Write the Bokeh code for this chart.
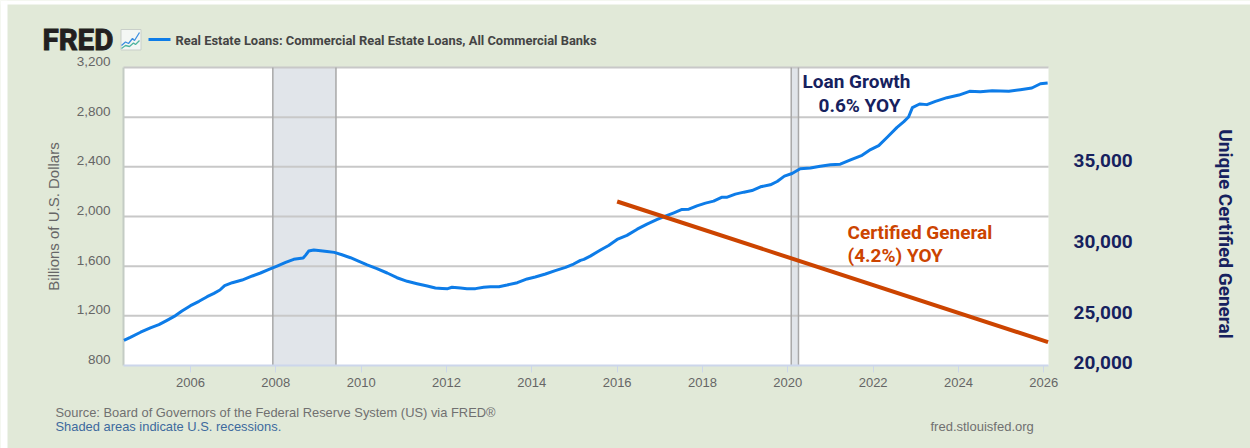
from math import pi

from bokeh.embed import file_html
from bokeh.models import (BoxAnnotation, ColumnDataSource, FixedTicker, Label, LinearAxis,
                          NumeralTickFormatter, PolyAnnotation, Range1d)
from bokeh.plotting import figure
from bokeh.resources import INLINE

# Commercial real estate loans, billions of U.S. dollars
loan_years = [
    2004.44, 2004.59, 2004.83, 2005.06, 2005.26, 2005.45, 2005.65, 2005.80, 2006.00, 2006.20,
    2006.39, 2006.55, 2006.69, 2006.80, 2006.98, 2007.21, 2007.45, 2007.64, 2007.84, 2008.03,
    2008.23, 2008.42, 2008.64, 2008.70, 2008.77, 2008.89, 2009.05, 2009.20, 2009.37, 2009.55,
    2009.75, 2009.91, 2010.14, 2010.37, 2010.61, 2010.84, 2011.08, 2011.31, 2011.55, 2011.74,
    2011.90, 2012.03, 2012.13, 2012.33, 2012.48, 2012.68, 2012.87, 2013.03, 2013.23, 2013.42,
    2013.66, 2013.89, 2014.08, 2014.32, 2014.55, 2014.79, 2014.98, 2015.14, 2015.22, 2015.37,
    2015.61, 2015.80, 2016.00, 2016.23, 2016.47, 2016.70, 2016.94, 2017.13, 2017.33, 2017.52,
    2017.68, 2017.87, 2018.07, 2018.26, 2018.46, 2018.58, 2018.77, 2018.97, 2019.16, 2019.36,
    2019.59, 2019.75, 2019.92, 2020.10, 2020.29, 2020.53, 2020.76, 2021.00, 2021.23, 2021.47,
    2021.74, 2021.94, 2022.13, 2022.33, 2022.56, 2022.72, 2022.83, 2022.92, 2023.09, 2023.26,
    2023.46, 2023.73, 2024.01, 2024.26, 2024.51, 2024.79, 2025.18, 2025.45, 2025.72, 2025.92,
    2026.09,
]
loan_values = [
    1003, 1027, 1068, 1103, 1129, 1164, 1202, 1239, 1282, 1317,
    1354, 1381, 1408, 1443, 1467, 1488, 1521, 1545, 1574, 1601,
    1630, 1655, 1665, 1689, 1722, 1730, 1724, 1719, 1711, 1692,
    1668, 1645, 1610, 1580, 1545, 1507, 1478, 1459, 1440, 1424,
    1421, 1419, 1430, 1424, 1419, 1419, 1430, 1435, 1435, 1448,
    1467, 1497, 1513, 1537, 1564, 1590, 1617, 1647, 1655, 1681,
    1730, 1767, 1815, 1848, 1898, 1939, 1976, 2003, 2030, 2057,
    2059, 2086, 2108, 2124, 2156, 2156, 2180, 2196, 2209, 2239,
    2255, 2282, 2325, 2346, 2384, 2391, 2405, 2416, 2421, 2456,
    2493, 2539, 2571, 2638, 2718, 2764, 2801, 2877, 2906, 2901,
    2927, 2957, 2978, 3008, 3005, 3013, 3008, 3021, 3035, 3069,
    3075,
]

# Certified General trend, expressed on the left-hand scale
certified_years = [2016.0, 2026.1]
certified_values = [2121, 988]

recession_starts = [2007.93, 2020.08]
recession_ends = [2009.41, 2020.25]

year_ticks = [2006, 2008, 2010, 2012, 2014, 2016, 2018, 2020, 2022, 2024, 2026]
value_ticks = [800, 1200, 1600, 2000, 2400, 2800, 3200]
certified_tick_labels = ["35,000", "30,000", "25,000", "20,000"]
certified_tick_rows = [160, 241, 311.5, 362]

BACKGROUND = "#e1e9d8"
NAVY = "#16215e"
ORANGE = "#cc4400"
BLUE = "#0d7ce8"
GREY_TEXT = "#666666"

WIDTH, HEIGHT = 1250, 448

# The drawing frame fills the page; the white panel occupies this part of the data space.
PANEL_LEFT_PX, PANEL_RIGHT_PX, PANEL_TOP_PX, PANEL_BOTTOM_PX = 123, 1048, 67, 365
YEAR_MIN, YEAR_MAX, VALUE_MIN, VALUE_MAX = 2004.43, 2026.11, 800, 3200
years_per_px = (YEAR_MAX - YEAR_MIN) / (PANEL_RIGHT_PX - PANEL_LEFT_PX)
value_per_px = (VALUE_MAX - VALUE_MIN) / (PANEL_BOTTOM_PX - PANEL_TOP_PX)
value_start = VALUE_MIN - (HEIGHT - PANEL_BOTTOM_PX) * value_per_px
value_end = VALUE_MAX + PANEL_TOP_PX * value_per_px

p = figure(
    width=WIDTH, height=HEIGHT, output_backend="svg", toolbar_location=None,
    x_range=Range1d(YEAR_MIN - PANEL_LEFT_PX * years_per_px,
                    YEAR_MAX + (WIDTH - PANEL_RIGHT_PX) * years_per_px),
    y_range=Range1d(value_start, value_end),
    min_border=0, border_fill_color=BACKGROUND, background_fill_color=BACKGROUND,
    outline_line_color=None,
)


def note(text, x, y, size, color, font="Liberation Sans", style="normal", align="left", angle=0, **extra):
    p.add_layout(Label(
        x=x, y=HEIGHT - y, x_units="screen", y_units="screen", text=text,
        text_font=font, text_font_size=f"{size}px", text_font_style=style, text_color=color,
        text_align=align, text_baseline="middle", angle=angle, **extra,
    ))


def stroke(xs, ys, color, width):
    # An out-and-back outline renders as an open polyline
    p.add_layout(PolyAnnotation(
        xs=xs + xs[::-1], ys=[HEIGHT - v for v in ys + ys[::-1]],
        xs_units="screen", ys_units="screen",
        fill_alpha=0, line_color=color, line_alpha=1, line_width=width, level="overlay",
    ))


def screen_box(left, right, top, bottom, **style):
    p.add_layout(BoxAnnotation(
        left=left, right=right, top=HEIGHT - top, bottom=HEIGHT - bottom,
        left_units="screen", right_units="screen", top_units="screen", bottom_units="screen",
        level="overlay", **style,
    ))


# Page margin above and to the left of the panel
screen_box(0, 7, 0, HEIGHT, fill_color="white", fill_alpha=1, line_alpha=0)
screen_box(0, WIDTH, 0, 4, fill_color="white", fill_alpha=1, line_alpha=0)

# White panel, recession bands and rules, back to front
p.quad(left=YEAR_MIN, right=YEAR_MAX, bottom=VALUE_MIN, top=VALUE_MAX,
       fill_color="white", line_color=None, level="image")
bands = ColumnDataSource(dict(left=recession_starts, right=recession_ends))
p.quad(left="left", right="right", bottom=VALUE_MIN, top=VALUE_MAX, source=bands,
       fill_color="#e1e5ea", line_color=None, level="image")
p.segment(x0=YEAR_MIN, x1=YEAR_MAX, y0=value_ticks[1:], y1=value_ticks[1:],
          line_color="#c8c8c8", line_width=2, level="underlay")
for edge in ("left", "right"):
    p.segment(x0=edge, x1=edge, y0=VALUE_MIN, y1=VALUE_MAX, source=bands,
              line_color="#a8a8a8", line_width=1.5, level="underlay")
p.segment(x0=YEAR_MIN, x1=YEAR_MIN, y0=VALUE_MIN, y1=VALUE_MAX,
          line_color="#c4ccc4", line_width=2, level="underlay")

# Axes
p.xgrid.visible = False
p.ygrid.visible = False
p.yaxis.visible = False

xaxis = p.xaxis[0]
xaxis.fixed_location = VALUE_MIN
xaxis.bounds = (YEAR_MIN, YEAR_MAX)
xaxis.ticker = FixedTicker(ticks=year_ticks)
xaxis.axis_line_color = "#ccd6eb"
xaxis.axis_line_width = 2
xaxis.major_tick_line_color = "#ccd6eb"
xaxis.major_tick_in = 0
xaxis.major_tick_out = 7
xaxis.minor_tick_line_color = None
xaxis.major_label_standoff = 5
xaxis.major_label_text_font = "Liberation Sans"
xaxis.major_label_text_font_size = "13px"
xaxis.major_label_text_color = GREY_TEXT

# The value labels sit just above their gridlines, so their axis runs on a slightly lowered range
label_shift = 6 * value_per_px
p.extra_y_ranges["value_labels"] = Range1d(value_start - label_shift, value_end - label_shift)
value_axis = LinearAxis(
    y_range_name="value_labels", ticker=FixedTicker(ticks=value_ticks),
    fixed_location=YEAR_MIN, bounds=(VALUE_MIN, VALUE_MAX),
    formatter=NumeralTickFormatter(format="0,0"),
    axis_line_color=None, major_tick_line_color=None, minor_tick_line_color=None,
    major_label_standoff=7, major_label_text_font="Liberation Sans",
    major_label_text_font_size="13.5px", major_label_text_color=GREY_TEXT,
)
p.add_layout(value_axis, "left")
note("Billions of U.S. Dollars", 53, 216, 15, GREY_TEXT, align="center", angle=pi / 2)

# Series
p.line(loan_years, loan_values, line_color=BLUE, line_width=3, line_join="round")
p.line(certified_years, certified_values, line_color=ORANGE, line_width=4)

# Header
note("FRED", 42, 39.5, 29.5, "#231f20", font="Roboto", style="bold",
     text_outline_color="#231f20")
screen_box(120.5, 140.5, 29, 49.5, fill_color="#f4f7f4", fill_alpha=1, line_color="#c9cfc9",
           line_alpha=1, line_width=1)
stroke([121, 125, 128, 132, 134, 139], [45, 41.5, 43, 38, 40, 32], "#3d8fe0", 1.3)
stroke([121, 125, 129, 133, 135, 139], [48, 45, 46, 42.5, 44, 40], "#4fb5a0", 1.3)
stroke([148, 170], [39, 39], BLUE, 3)
note("Real Estate Loans: Commercial Real Estate Loans, All Commercial Banks", 175, 39.5, 12.9, "#444444",
     font="Roboto", style="bold")

# Callouts
note("Loan Growth", 802, 81, 19, NAVY, font="Roboto", style="bold")
note("0.6% YOY", 818, 105, 19, NAVY, font="Roboto", style="bold")
note("Certified General", 847, 232, 19, ORANGE, font="Roboto", style="bold")
note("(4.2%) YOY", 847, 255, 19, ORANGE, font="Roboto", style="bold")

# Hand-placed scale for Certified General
for tick_label, row in zip(certified_tick_labels, certified_tick_rows):
    note(tick_label, 1073, row, 19, NAVY, font="Roboto", style="bold")
note("Unique Certified General", 1225, 233.5, 19, NAVY, font="Roboto", style="bold",
     align="center", angle=-pi / 2)

# Footer
note("Source: Board of Governors of the Federal Reserve System (US) via FRED®", 55, 412, 12.9, "#707070")
note("Shaded areas indicate U.S. recessions.", 55, 425.5, 12.9, "#3d6a9e")
note("fred.stlouisfed.org", 930, 426, 13, "#707070")

open("out.html", "w").write(file_html(p, INLINE))
